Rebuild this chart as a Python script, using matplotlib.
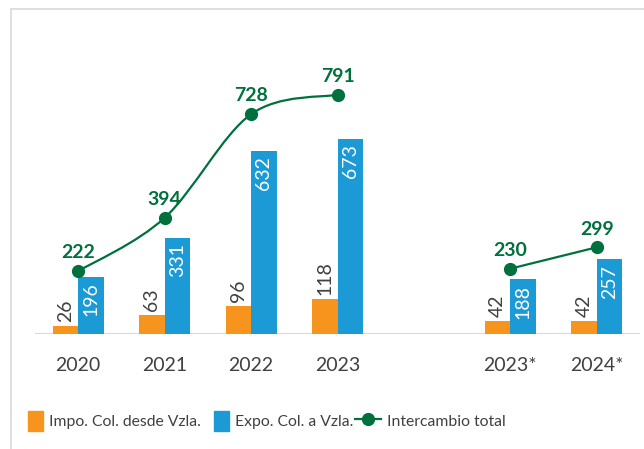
import matplotlib
matplotlib.use("Agg")
import matplotlib.pyplot as plt
from matplotlib.patches import Patch, Rectangle
from matplotlib.lines import Line2D
from matplotlib.path import Path
from matplotlib.patches import PathPatch
from matplotlib.legend_handler import HandlerPatch

years = ["2020", "2021", "2022", "2023", "2023*", "2024*"]
impo = [26, 63, 96, 118, 42, 42]
expo = [196, 331, 632, 673, 188, 257]
total = [222, 394, 728, 791, 230, 299]
pos = [0, 1, 2, 3, 5, 6]

ORANGE = "#F7941D"
BLUE = "#1B9AD6"
GREEN = "#00703C"
TXT = "#404040"

plt.rcParams["font.family"] = ["Lato", "DejaVu Sans"]
FS = 14
LFS = 11.3

fig = plt.figure(figsize=(6.44, 4.49), dpi=100)
ax = fig.add_axes([35 / 644, 115.5 / 449, 605 / 644, 283.5 / 449])
ax2 = ax.twinx()

w = 0.295
ax.bar([p - w / 2 for p in pos], impo, width=w, color=ORANGE, zorder=2)
ax.bar([p + w / 2 for p in pos], expo, width=w, color=BLUE, zorder=2)

for p, v in zip(pos, impo):
    ax.annotate(str(v), (p - w / 2, v), xytext=(0, 3), textcoords="offset points",
                rotation=90, ha="center", va="bottom", fontsize=FS, color=TXT)
for p, v in zip(pos, expo):
    ax.annotate(str(v), (p + w / 2, v), xytext=(0, -4), textcoords="offset points",
                rotation=90, ha="center", va="top", fontsize=FS, color="white")

ax.set_xlim(-0.5, 6.5)
ax.set_ylim(0, 981)
ax2.set_ylim(21, 935)


def smooth_path(xs, ys):
    # Catmull-Rom style bezier, like a smoothed Excel line
    pts = list(zip(xs, ys))
    verts = [pts[0]]
    codes = [Path.MOVETO]
    n = len(pts)
    for i in range(n - 1):
        p0 = pts[i - 1] if i > 0 else pts[i]
        p1 = pts[i]
        p2 = pts[i + 1]
        p3 = pts[i + 2] if i + 2 < n else pts[i + 1]
        c1 = (p1[0] + (p2[0] - p0[0]) / 6, p1[1] + (p2[1] - p0[1]) / 6)
        c2 = (p2[0] - (p3[0] - p1[0]) / 6, p2[1] - (p3[1] - p1[1]) / 6)
        verts += [c1, c2, p2]
        codes += [Path.CURVE4] * 3
    return Path(verts, codes)


for seg in (slice(0, 4), slice(4, 6)):
    path = smooth_path(pos[seg], total[seg])
    ax2.add_patch(PathPatch(path, facecolor="none", edgecolor=GREEN, lw=1.6, zorder=3))
ax2.plot(pos, total, linestyle="none", marker="o", markersize=8.5, color=GREEN, zorder=4)
for p, v in zip(pos, total):
    ax2.annotate(str(v), (p, v), xytext=(0, 7), textcoords="offset points",
                 ha="center", va="bottom", fontsize=FS, fontweight="bold", color=GREEN)

ax.set_xticks(pos)
ax.set_xticklabels(years)
ax.tick_params(axis="x", length=0, pad=17, labelsize=FS, labelcolor=TXT)
ax.set_yticks([])
ax2.set_yticks([])
for a in (ax, ax2):
    for s in ["top", "right", "left", "bottom"]:
        a.spines[s].set_visible(False)
ax.axhline(0, color="#D9D9D9", lw=1.5, zorder=1)


def small_square(legend, orig_handle, xdescent, ydescent, width, height, fontsize):
    sw = height * 0.78
    return Rectangle((-xdescent + width - sw, -ydescent), sw, height)


handles = [Patch(color=ORANGE), Patch(color=BLUE),
           Line2D([], [], color=GREEN, lw=1.6, marker="o", markersize=8.5)]
labels = ["Impo. Col. desde Vzla.", "Expo. Col. a Vzla.", "Intercambio total"]
fig.legend(handles, labels, ncol=3, loc="center left",
           bbox_to_anchor=(17 / 644, 1 - 421 / 449), frameon=False,
           fontsize=LFS, labelcolor=TXT, handlelength=1.65, handleheight=1.5,
           handletextpad=0.4, columnspacing=0.1, borderpad=0, borderaxespad=0,
           handler_map={Patch: HandlerPatch(patch_func=small_square)})

fig.patches.append(Rectangle((11 / 644, -0.05), 1.1, 0.05 + 1 - 9 / 449,
                             transform=fig.transFigure, fill=False,
                             edgecolor="#D9D9D9", lw=1.2))

fig.savefig("out.png", dpi=100)
